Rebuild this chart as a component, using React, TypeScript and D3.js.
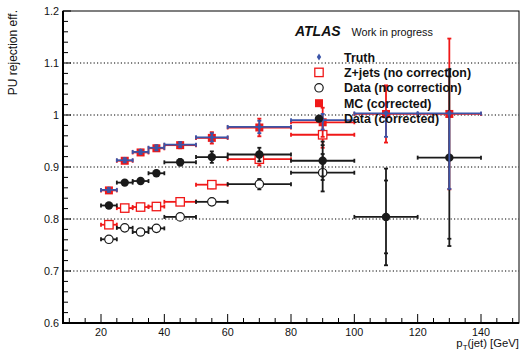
import { useEffect, useRef } from "react";
import * as d3 from "d3";

// pT bins (GeV)
const ptCenter = [22.5, 27.5, 32.5, 37.5, 45, 55, 70, 90, 110, 130];
const ptHalf = [2.5, 2.5, 2.5, 2.5, 5, 5, 10, 10, 10, 10];

// series values per bin (null = no point)
const truth = [0.856, 0.913, 0.929, 0.937, 0.943, 0.957, 0.977, 0.99, 1.003, 1.003];
const truthErrUp = [0.004, 0.004, 0.004, 0.005, 0.005, 0.008, 0.012, 0.012, 0.002, 0.002];
const truthErrDown = [0.004, 0.004, 0.004, 0.005, 0.005, 0.008, 0.012, 0.018, 0.045, 0.145];
const mcCorr = [0.855, 0.912, 0.928, 0.936, 0.942, 0.956, 0.976, 0.986, 1.002, 1.002];
const mcCorrErr = [0.004, 0.004, 0.005, 0.005, 0.006, 0.011, 0.017, 0.028, 0.055, 0.145];
const zjets = [0.789, 0.821, 0.823, 0.824, 0.833, 0.866, 0.915, 0.962, null, null];
const zjetsErr = [0.004, 0.004, 0.004, 0.004, 0.005, 0.007, 0.012, 0.025, 0, 0];
const dataNoCorr = [0.761, 0.783, 0.775, 0.782, 0.804, 0.833, 0.867, 0.889, null, null];
const dataNoCorrErr = [0.004, 0.004, 0.004, 0.004, 0.005, 0.006, 0.01, 0.036, 0, 0];
const dataCorr = [0.826, 0.87, 0.873, 0.888, 0.909, 0.919, 0.924, 0.912, 0.804, 0.918];
const dataCorrErr = [0.004, 0.004, 0.004, 0.005, 0.006, 0.011, 0.013, 0.037, 0.093, 0.17];
const dataCorrStat = [0, 0, 0, 0, 0, 0, 0, 0.03, 0.07, 0.156];

const xTickLabels = [20, 40, 60, 80, 100, 120, 140];
const yTickLabels = [0.6, 0.7, 0.8, 0.9, 1.0, 1.1, 1.2];
const legendLabels = ["Truth", "Z+jets (no correction)", "Data (no correction)", "MC (corrected)", "Data (corrected)"];

const RED = "#f01818";
const BLUE = "#3b55a8";
const BLACK = "#1a1a1a";
const FONT = "'Liberation Sans', Arial, Helvetica, sans-serif";

type Marker = "diamond" | "squareOpen" | "circleOpen" | "squareFilled" | "circleFilled";

export default function App() {
  const ref = useRef<SVGSVGElement>(null);

  useEffect(() => {
    if (!ref.current) return;
    const svg = d3.select(ref.current);
    svg.selectAll("*").remove();

    const left = 63, right = 519, top = 11, bottom = 323;
    const x = d3.scaleLinear().domain([8, 152]).range([left, right]);
    const y = d3.scaleLinear().domain([0.6, 1.2]).range([bottom, top]);

    // dotted grid
    svg.append("g").selectAll("line").data(yTickLabels.slice(1, -1)).join("line")
      .attr("x1", left).attr("x2", right)
      .attr("y1", d => y(d)).attr("y2", d => y(d))
      .attr("stroke", "#000").attr("stroke-width", 1).attr("stroke-dasharray", "1.2,2.2");

    // minor / major ticks
    const ax = svg.append("g").attr("stroke", "#000");
    d3.range(10, 151, 5).forEach(v => {
      const major = v % 20 === 0;
      ax.append("line").attr("x1", x(v)).attr("x2", x(v))
        .attr("y1", bottom).attr("y2", bottom - (major ? 9 : 5)).attr("stroke-width", 1);
    });
    d3.range(0, 31).forEach(k => {
      const v = 0.6 + k * 0.02;
      const major = k % 5 === 0;
      ax.append("line").attr("x1", left).attr("x2", left + (major ? 8 : 5))
        .attr("y1", y(v)).attr("y2", y(v)).attr("stroke-width", 1);
    });

    // frame
    svg.append("rect").attr("x", left).attr("y", top).attr("width", right - left).attr("height", bottom - top)
      .attr("fill", "none").attr("stroke", "#000").attr("stroke-width", 1);
    svg.append("line").attr("x1", left).attr("x2", left).attr("y1", top).attr("y2", bottom + 1)
      .attr("stroke", "#000").attr("stroke-width", 2);
    svg.append("line").attr("x1", left - 1).attr("x2", right).attr("y1", bottom).attr("y2", bottom)
      .attr("stroke", "#000").attr("stroke-width", 2);

    // tick labels
    svg.append("g").selectAll("text").data(xTickLabels).join("text")
      .attr("x", d => x(d)).attr("y", 335.5).attr("text-anchor", "middle")
      .attr("font-family", FONT).attr("font-size", 10.8).attr("fill", "#111")
      .text(d => String(d));
    svg.append("g").selectAll("text").data(yTickLabels).join("text")
      .attr("x", 59).attr("y", d => y(d) + 4).attr("text-anchor", "end")
      .attr("font-family", FONT).attr("font-size", 10.8).attr("fill", "#111")
      .text(d => String(+d.toFixed(1)));

    // axis titles
    const xt = svg.append("text").attr("x", right).attr("y", 346.5).attr("text-anchor", "end")
      .attr("font-family", FONT).attr("font-size", 11.3).attr("fill", "#111");
    xt.append("tspan").text("p");
    xt.append("tspan").attr("font-size", 8).attr("dy", 3).text("T");
    xt.append("tspan").attr("dy", -3).text("(jet) [GeV]");
    svg.append("text").attr("transform", "translate(17,10) rotate(-90)").attr("text-anchor", "end")
      .attr("font-family", FONT).attr("font-size", 12).attr("fill", "#111").text("PU rejection eff.");

    const drawMarker = (g: d3.Selection<SVGGElement, unknown, null, undefined>, cx: number, cy: number, m: Marker) => {
      if (m === "circleFilled") g.append("circle").attr("cx", cx).attr("cy", cy).attr("r", 4.2).attr("fill", BLACK);
      if (m === "circleOpen") g.append("circle").attr("cx", cx).attr("cy", cy).attr("r", 4.2)
        .attr("fill", "#fff").attr("stroke", BLACK).attr("stroke-width", 1.2);
      if (m === "squareOpen") g.append("rect").attr("x", cx - 4.2).attr("y", cy - 4.2).attr("width", 8.4).attr("height", 8.4)
        .attr("fill", "#fff").attr("stroke", RED).attr("stroke-width", 1.3);
      if (m === "squareFilled") g.append("rect").attr("x", cx - 4).attr("y", cy - 4).attr("width", 8).attr("height", 8)
        .attr("fill", RED);
      if (m === "diamond") g.append("path").attr("d", `M${cx},${cy - 3.6}L${cx + 2.2},${cy}L${cx},${cy + 3.6}L${cx - 2.2},${cy}Z`)
        .attr("fill", BLUE);
    };

    const drawSeries = (vals: (number | null)[], errUp: number[], errDown: number[], color: string, m: Marker, stat?: number[]) => {
      const g = svg.append("g");
      const eb = g.append("g").attr("stroke", color).attr("stroke-width", 1.8).attr("fill", "none");
      vals.forEach((v, i) => {
        if (v == null) return;
        const cx = x(ptCenter[i]), cy = y(v);
        const x0 = x(ptCenter[i] - ptHalf[i]), x1 = x(ptCenter[i] + ptHalf[i]);
        const y0 = y(v - errDown[i]), y1 = y(v + errUp[i]);
        eb.append("line").attr("x1", x0).attr("x2", x1).attr("y1", cy).attr("y2", cy);
        eb.append("line").attr("x1", x0).attr("x2", x0).attr("y1", cy - 2).attr("y2", cy + 2);
        eb.append("line").attr("x1", x1).attr("x2", x1).attr("y1", cy - 2).attr("y2", cy + 2);
        eb.append("line").attr("x1", cx).attr("x2", cx).attr("y1", y0).attr("y2", y1);
        eb.append("line").attr("x1", cx - 2).attr("x2", cx + 2).attr("y1", y0).attr("y2", y0);
        eb.append("line").attr("x1", cx - 2).attr("x2", cx + 2).attr("y1", y1).attr("y2", y1);
        if (stat && stat[i] > 0) {
          [v - stat[i], v + stat[i]].forEach(s => {
            eb.append("line").attr("x1", cx - 2).attr("x2", cx + 2).attr("y1", y(s)).attr("y2", y(s));
          });
        }
      });
      vals.forEach((v, i) => {
        if (v == null) return;
        drawMarker(g, x(ptCenter[i]), y(v), m);
      });
    };

    drawSeries(zjets, zjetsErr, zjetsErr, RED, "squareOpen");
    drawSeries(dataNoCorr, dataNoCorrErr, dataNoCorrErr, BLACK, "circleOpen");
    drawSeries(mcCorr, mcCorrErr, mcCorrErr, RED, "squareFilled");
    drawSeries(dataCorr, dataCorrErr, dataCorrErr, BLACK, "circleFilled", dataCorrStat);
    drawSeries(truth, truthErrUp, truthErrDown, BLUE, "diamond");

    // labels
    svg.append("text").attr("x", 295).attr("y", 36).attr("font-family", FONT).attr("font-size", 14)
      .attr("font-weight", "bold").attr("font-style", "italic").attr("fill", "#111").text("ATLAS");
    svg.append("text").attr("x", 351.5).attr("y", 36).attr("font-family", FONT).attr("font-size", 10.8)
      .attr("fill", "#111").text("Work in progress");

    // legend
    const markers: Marker[] = ["diamond", "squareOpen", "circleOpen", "squareFilled", "circleFilled"];
    const lg = svg.append("g");
    legendLabels.forEach((lab, i) => {
      const ly = 57 + i * 15.4;
      drawMarker(lg, 319, ly, markers[i]);
      lg.append("text").attr("x", 344).attr("y", ly + 4.5).attr("font-family", FONT).attr("font-size", 12.4)
        .attr("font-weight", "bold").attr("fill", "#111").text(lab);
    });
  }, []);

  return <svg ref={ref} width={528} height={353} style={{ position: "absolute", left: 0, top: 0, background: "#fff" }} />;
}
